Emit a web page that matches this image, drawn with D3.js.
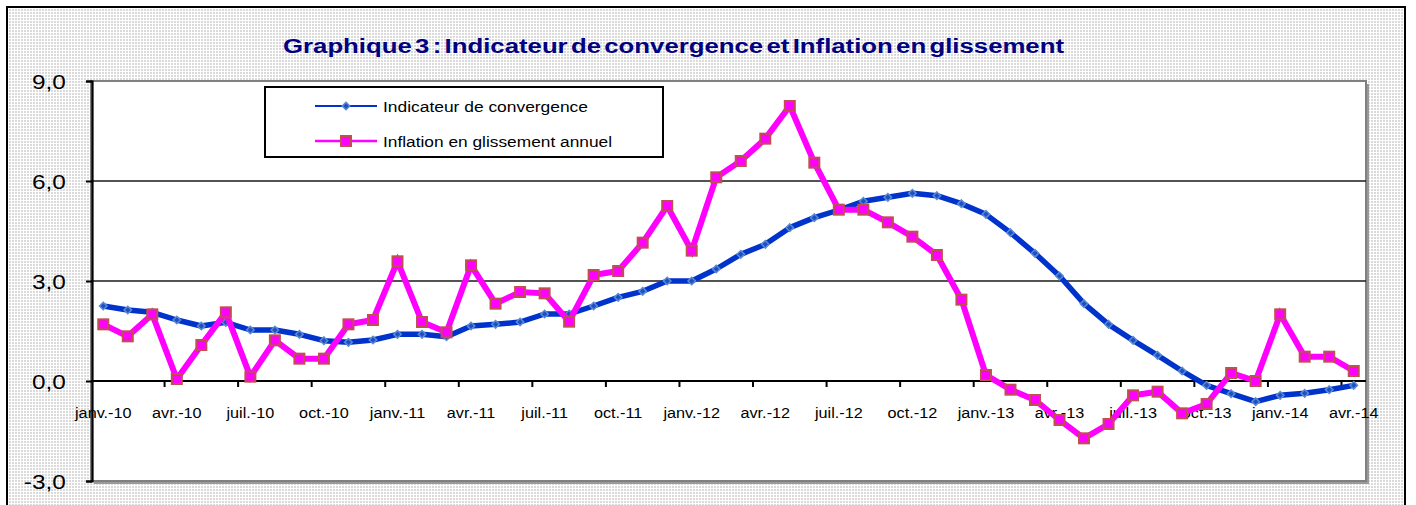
<!DOCTYPE html>
<html>
<head>
<meta charset="utf-8">
<script src="https://cdn.jsdelivr.net/npm/d3@7"></script>
<style>
  html, body { margin: 0; padding: 0; background: #fff; }
  svg { display: block; }
  text { font-family: "Liberation Sans", Arial, sans-serif; }
</style>
</head>
<body>
<svg id="chart" width="1416" height="505"></svg>
<script>
// ---- Data ----
const categories = [
  "janv.-10","févr.-10","mars-10","avr.-10","mai-10","juin-10","juil.-10","août-10","sept.-10","oct.-10","nov.-10","déc.-10",
  "janv.-11","févr.-11","mars-11","avr.-11","mai-11","juin-11","juil.-11","août-11","sept.-11","oct.-11","nov.-11","déc.-11",
  "janv.-12","févr.-12","mars-12","avr.-12","mai-12","juin-12","juil.-12","août-12","sept.-12","oct.-12","nov.-12","déc.-12",
  "janv.-13","févr.-13","mars-13","avr.-13","mai-13","juin-13","juil.-13","août-13","sept.-13","oct.-13","nov.-13","déc.-13",
  "janv.-14","févr.-14","mars-14","avr.-14"
];
const indicateur = [
  2.25, 2.13, 2.06, 1.83, 1.65, 1.76, 1.53, 1.53, 1.40, 1.21, 1.16, 1.23,
  1.40, 1.40, 1.33, 1.65, 1.70, 1.77, 2.01, 2.01, 2.25, 2.51, 2.69, 3.00,
  3.00, 3.36, 3.80, 4.10, 4.60, 4.90, 5.13, 5.39, 5.51, 5.63, 5.56, 5.32,
  5.00, 4.45, 3.83, 3.15, 2.32, 1.70, 1.22, 0.77, 0.30, -0.13, -0.38, -0.62,
  -0.43, -0.37, -0.26, -0.13
];
const inflation = [
  1.70, 1.34, 2.00, 0.06, 1.08, 2.06, 0.13, 1.22, 0.67, 0.67, 1.70, 1.83,
  3.59, 1.77, 1.46, 3.47, 2.32, 2.67, 2.63, 1.78, 3.18, 3.30, 4.15, 5.25,
  3.91, 6.11, 6.60, 7.27, 8.25, 6.55, 5.14, 5.14, 4.76, 4.33, 3.78, 2.44,
  0.18, -0.26, -0.57, -1.17, -1.72, -1.29, -0.43, -0.32, -0.97, -0.69, 0.24, 0.00,
  2.00, 0.73, 0.73, 0.30
];
const yTicks = [-3, 0, 3, 6, 9];
const gridValues = [3, 6];
const labelStep = 3;
const seriesNames = ["Indicateur de convergence", "Inflation en glissement annuel"];
const titleText = "Graphique 3 : Indicateur de convergence et Inflation en glissement";

// ---- Layout ----
const svg = d3.select("#chart");
const plot = { left: 91, right: 1366, top: 81, bottom: 481 };

const defs = svg.append("defs");
const pat = defs.append("pattern").attr("id", "dots").attr("width", 3).attr("height", 3)
  .attr("patternUnits", "userSpaceOnUse");
pat.append("rect").attr("width", 3).attr("height", 3).attr("fill", "#ffffff");
pat.append("rect").attr("width", 2).attr("height", 2).attr("fill", "#dadada");

// background & outer border
svg.append("rect").attr("x", 0).attr("y", 0).attr("width", 1416).attr("height", 505).attr("fill", "#fff");
svg.append("rect").attr("x", 7).attr("y", 7).attr("width", 1398).attr("height", 510)
  .attr("fill", "url(#dots)").attr("stroke", "#000").attr("stroke-width", 2);

const x = d3.scaleBand().domain(categories).range([plot.left, plot.right]).padding(0);
const y = d3.scaleLinear().domain([-3, 9]).range([plot.bottom, plot.top]);
const cx = d => x(d) + x.bandwidth() / 2;

// plot area with shadow
svg.append("rect").attr("x", plot.left + 3).attr("y", plot.top + 3)
  .attr("width", plot.right - plot.left).attr("height", plot.bottom - plot.top)
  .attr("fill", "#9a9a9a");
svg.append("rect").attr("x", plot.left).attr("y", plot.top)
  .attr("width", plot.right - plot.left).attr("height", plot.bottom - plot.top)
  .attr("fill", "#fff").attr("stroke", "#808080").attr("stroke-width", 2);

// gridlines
svg.append("g").selectAll("line").data(gridValues).join("line")
  .attr("x1", plot.left).attr("x2", plot.right)
  .attr("y1", d => y(d)).attr("y2", d => y(d))
  .attr("stroke", "#1a1a1a").attr("stroke-width", 1.6);

// y axis
const loc = d3.formatLocale({ decimal: ",", thousands: " ", grouping: [3], currency: ["", ""], minus: "-" });
const fmt = loc.format(".1f");
const yAxis = svg.append("g").attr("transform", `translate(${plot.left + 1},0)`)
  .call(d3.axisLeft(y).tickValues(yTicks).tickFormat(fmt).tickSize(6).tickPadding(0));
yAxis.select(".domain").attr("stroke", "#000").attr("stroke-width", 2.2);
yAxis.selectAll(".tick line").attr("stroke", "#000").attr("stroke-width", 2);
yAxis.selectAll(".tick text")
  .attr("x", -21.5).attr("dy", "0.36em")
  .attr("font-size", 20).attr("fill", "#000")
  .attr("transform", "scale(1.22,1)");

// x axis at zero
const xAxisG = svg.append("g").attr("transform", `translate(0,${y(0)})`);
xAxisG.append("line").attr("x1", plot.left).attr("x2", plot.right)
  .attr("stroke", "#000").attr("stroke-width", 2.2);
const tickIdx = d3.range(labelStep, categories.length, labelStep);
xAxisG.selectAll("line.tk").data(tickIdx).join("line").attr("class", "tk")
  .attr("x1", i => x(categories[i])).attr("x2", i => x(categories[i]))
  .attr("y1", 0).attr("y2", 6).attr("stroke", "#000").attr("stroke-width", 2);
const labelCats = categories.filter((d, i) => i % labelStep === 0);
xAxisG.selectAll("g.lbl").data(labelCats).join("g").attr("class", "lbl")
  .attr("transform", d => `translate(${cx(d)},37) scale(1.16,1)`)
  .append("text").attr("text-anchor", "middle").attr("font-size", 14).attr("fill", "#000")
  .text(d => d);

// lines
const line = d3.line().x((d, i) => cx(categories[i])).y(d => y(d));

svg.append("path").datum(indicateur).attr("d", line)
  .attr("fill", "none").attr("stroke", "#0033cc").attr("stroke-width", 5.5)
  .attr("stroke-linejoin", "round");
const diamond = d3.symbol().type(d3.symbolDiamond2).size(36);
svg.append("g").selectAll("path").data(indicateur).join("path")
  .attr("transform", (d, i) => `translate(${cx(categories[i])},${y(d)})`)
  .attr("d", diamond).attr("fill", "#1f4fc4").attr("stroke", "#5b8bd0").attr("stroke-width", 1.5);

svg.append("path").datum(inflation).attr("d", line)
  .attr("fill", "none").attr("stroke", "#ff00ff").attr("stroke-width", 6)
  .attr("stroke-linejoin", "miter");
svg.append("g").selectAll("rect").data(inflation).join("rect")
  .attr("x", (d, i) => cx(categories[i]) - 5).attr("y", d => y(d) - 5)
  .attr("width", 10).attr("height", 10)
  .attr("fill", "#ff00ff").attr("stroke", "#c0504d").attr("stroke-width", 2);

// legend
const lg = svg.append("g");
lg.append("rect").attr("x", 265).attr("y", 87).attr("width", 398).attr("height", 70)
  .attr("fill", "#fff").attr("stroke", "#000").attr("stroke-width", 2);
const rows = [106, 141];
lg.append("line").attr("x1", 315).attr("x2", 377).attr("y1", rows[0]).attr("y2", rows[0])
  .attr("stroke", "#0033cc").attr("stroke-width", 2);
lg.append("path").attr("transform", `translate(346,${rows[0]})`).attr("d", diamond)
  .attr("fill", "#1f4fc4").attr("stroke", "#5b8bd0").attr("stroke-width", 1.5);
lg.append("line").attr("x1", 315).attr("x2", 377).attr("y1", rows[1]).attr("y2", rows[1])
  .attr("stroke", "#ff00ff").attr("stroke-width", 2.5);
lg.append("rect").attr("x", 341).attr("y", rows[1] - 5).attr("width", 10).attr("height", 10)
  .attr("fill", "#ff00ff").attr("stroke", "#c0504d").attr("stroke-width", 2);
const legendWidths = [205, 229];
lg.selectAll("text").data(seriesNames).join("text")
  .attr("x", 383).attr("y", (d, i) => rows[i] + 5.5)
  .attr("font-size", 15.5).attr("fill", "#000")
  .attr("textLength", (d, i) => legendWidths[i]).attr("lengthAdjust", "spacingAndGlyphs")
  .text(d => d);

// title
svg.append("text").attr("x", 283).attr("y", 53)
  .attr("font-size", 20).attr("font-weight", "bold").attr("fill", "#000080")
  .attr("word-spacing", -3)
  .attr("textLength", 781).attr("lengthAdjust", "spacingAndGlyphs")
  .text(titleText);
</script>
</body>
</html>
